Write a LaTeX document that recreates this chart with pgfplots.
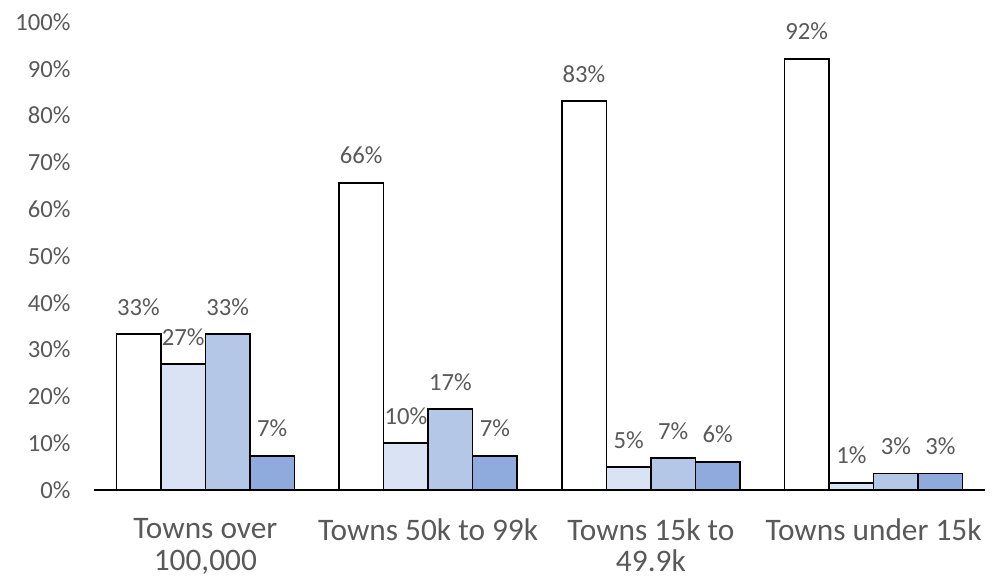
\documentclass[border=0pt]{standalone}
\usepackage{pgfplots}
\pgfplotsset{compat=1.18}
\usepackage{fontspec}
\setmainfont{Carlito}
\definecolor{txt}{HTML}{595959}
\definecolor{cA}{HTML}{FFFFFF}
\definecolor{cB}{HTML}{DAE3F3}
\definecolor{cC}{HTML}{B4C7E7}
\definecolor{cD}{HTML}{8FAADC}
\begin{document}
\begin{tikzpicture}
\begin{axis}[
  scale only axis,
  width=668.25pt, height=351pt,
  at={(0,0)}, anchor=south west,
  ybar=0pt, bar width=0.2,
  xmin=-0.5, xmax=3.5, ymin=0, ymax=100,
  xtick={0,1,2,3},
  xticklabels={{Towns over\\100,000}, {Towns 50k to 99k}, {Towns 15k to\\49.9k}, {Towns under 15k}},
  xticklabel style={align=center, font=\fontsize{23.5}{23.5}\selectfont, text=txt, yshift=-18pt},
  ytick={0,10,...,100},
  yticklabels={0\%,10\%,20\%,30\%,40\%,50\%,60\%,70\%,80\%,90\%,100\%},
  yticklabel style={font=\fontsize{18.5}{20}\selectfont, text=txt, xshift=-14pt},
  major tick length=0pt,
  axis x line*=bottom,
  axis y line*=left,
  x axis line style={black, line width=1.2pt, -},
  y axis line style={draw=none},
  clip=false,
  point meta=explicit symbolic,
  nodes near coords,
  every node near coord/.append style={anchor=center, yshift=20.5pt, font=\fontsize{18.5}{20}\selectfont, text=txt},
  every axis plot/.append style={draw=black, line width=1.1pt},
]
\addplot[fill=cA] table[meta=l] {
x y l
0 33.3 33\%
1 65.6 66\%
2 83.1 83\%
3 92.1 92\%
};
\addplot[fill=cB] table[meta=l] {
x y l
0 26.9 27\%
1 10.0 10\%
2 4.9 5\%
3 1.5 1\%
};
\addplot[fill=cC] table[meta=l] {
x y l
0 33.3 33\%
1 17.3 17\%
2 6.8 7\%
3 3.5 3\%
};
\addplot[fill=cD] table[meta=l] {
x y l
0 7.3 7\%
1 7.3 7\%
2 6.0 6\%
3 3.5 3\%
};
\end{axis}
\path[use as bounding box] (-70.5pt,-69pt) rectangle (684.75pt,367.5pt);
\end{tikzpicture}
\end{document}
